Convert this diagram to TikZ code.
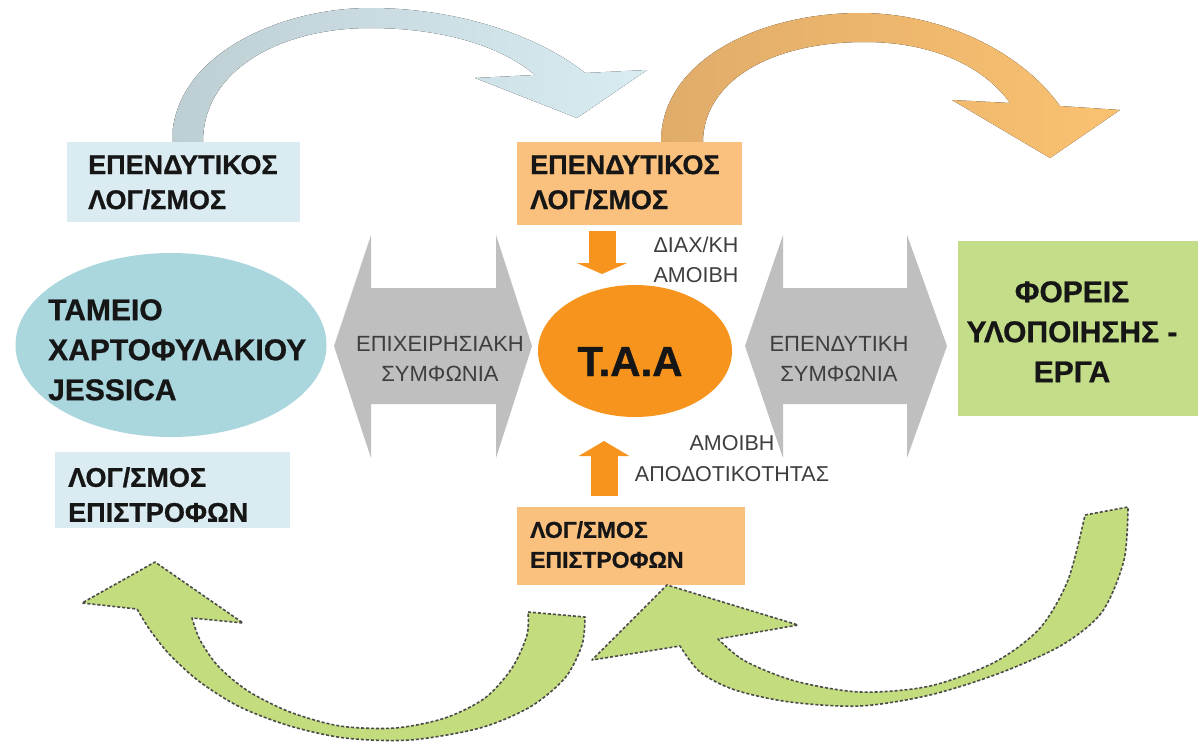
\documentclass[tikz,border=0pt]{standalone}
\usepackage{fontspec}
\setmainfont{Liberation Sans}[BoldFeatures={FakeBold=0.8}]
\usetikzlibrary{arrows.meta,shapes.geometric}
\definecolor{boxblue}{RGB}{218,235,241}
\definecolor{ellblue}{RGB}{170,214,222}
\definecolor{boxorange}{RGB}{250,192,126}
\definecolor{taaorange}{RGB}{247,148,30}
\definecolor{arcblueA}{RGB}{190,207,212}
\definecolor{arcblueB}{RGB}{216,236,241}
\definecolor{arcorA}{RGB}{224,172,106}
\definecolor{arcorB}{RGB}{250,193,112}
\definecolor{greybig}{RGB}{191,191,191}
\definecolor{greenbox}{RGB}{196,221,136}
\definecolor{greenarr}{RGB}{194,220,126}
\definecolor{dashgrey}{RGB}{75,75,75}
\definecolor{txtdark}{RGB}{22,22,22}
\definecolor{txtgrey}{RGB}{62,62,62}
\begin{document}
\begin{tikzpicture}[x=1pt,y=-1pt,
  panel/.style={inner sep=0pt,outer sep=0pt,anchor=north west},
  boxtxt/.style={font=\fontsize{27}{35}\selectfont\bfseries,text=txtdark,align=left,inner sep=0pt,anchor=north west},
  smalltxt/.style={font=\fontsize{23}{30}\selectfont\bfseries,text=txtdark,align=left,inner sep=0pt,anchor=north west},
  bigtxt/.style={font=\fontsize{30}{40}\selectfont\bfseries,text=txtdark,inner sep=0pt},
  greytxt/.style={font=\fontsize{22}{30}\selectfont,text=txtgrey,align=center,inner sep=0pt,anchor=north},
  labeltxt/.style={font=\fontsize{21.5}{30}\selectfont,text=txtgrey,align=center,inner sep=0pt,anchor=north},
  greyarrow/.style={fill=greybig},
  greenshape/.style={fill=greenarr,draw=dashgrey,line width=1.6pt,dash pattern=on 3pt off 2pt,line join=round},
  smallarr/.style={draw=taaorange,line width=27pt}
]
\fill[white] (0,0) rectangle (1198,744);
\useasboundingbox (0,0) rectangle (1198,744);

% curved top arrows
\fill[left color=arcblueA,right color=arcblueB]
  (172,142) .. controls (172,55) and (280,8) .. (370,8)
  .. controls (465,8) and (545,40) .. (585,73)
  -- (647,70) -- (577,118) -- (475,78) -- (535,75)
  .. controls (500,45) and (440,28) .. (370,28)
  .. controls (280,28) and (203,70) .. (203,142) -- cycle;
\fill[left color=arcorA,right color=arcorB]
  (661,142) .. controls (661,60) and (760,13) .. (860,13)
  .. controls (940,13) and (1020,50) .. (1060,106)
  -- (1120,110) -- (1050,158) -- (952,100) -- (1010,103)
  .. controls (985,68) and (935,42) .. (865,42)
  .. controls (765,42) and (703,85) .. (703,142) -- cycle;

% boxes
\node[panel,fill=boxblue,minimum width=233pt,minimum height=80pt] (lb1) at (67,142) {};
\node[boxtxt] (lb1t) at (88,155) {ΕΠΕΝΔΥΤΙΚΟΣ\\ΛΟΓ/ΣΜΟΣ};
\node[panel,fill=boxorange,minimum width=225pt,minimum height=83pt] (ob1) at (517,142) {};
\node[boxtxt] (ob1t) at (530,155) {ΕΠΕΝΔΥΤΙΚΟΣ\\ΛΟΓ/ΣΜΟΣ};
\node[panel,fill=boxblue,minimum width=235pt,minimum height=76pt] (lb2) at (55,452) {};
\node[boxtxt] (lb2t) at (68,467) {ΛΟΓ/ΣΜΟΣ\\ΕΠΙΣΤΡΟΦΩΝ};
\node[panel,fill=boxorange,minimum width=228pt,minimum height=78pt] (ob2) at (517,507) {};
\node[smalltxt] (ob2t) at (530,521) {ΛΟΓ/ΣΜΟΣ\\ΕΠΙΣΤΡΟΦΩΝ};
\node[panel,fill=greenbox,minimum width=240pt,minimum height=175pt] (gb) at (958,241) {};
\node[bigtxt,align=center,anchor=north] (gbt) at (1072,281) {ΦΟΡΕΙΣ\\ΥΛΟΠΟΙΗΣΗΣ -\\ΕΡΓΑ};

% ellipses
\node[ellipse,fill=ellblue,minimum width=311pt,minimum height=184pt,inner sep=0pt] (jess) at (171,345) {};
\node[bigtxt,align=left,anchor=north west] (jesst) at (48,299) {ΤΑΜΕΙΟ\\ΧΑΡΤΟΦΥΛΑΚΙΟΥ\\JESSICA};
\node[ellipse,fill=taaorange,minimum width=194pt,minimum height=132pt,inner sep=0pt] (taa) at (635,351) {};
\node[font=\fontsize{42}{48}\selectfont\bfseries,text=txtdark,inner sep=0pt,anchor=base] (taat) at (630,376) {T.A.A};

% grey double arrows
\fill[greyarrow] (334,346) -- (371,235) -- (371,288) -- (496,288) -- (496,235) -- (532,346)
  -- (496,458) -- (496,404) -- (371,404) -- (371,458) -- cycle;
\node[greytxt] (ga1t) at (440,336) {ΕΠΙΧΕΙΡΗΣΙΑΚΗ\\ΣΥΜΦΩΝΙΑ};
\fill[greyarrow] (745,346) -- (783,235) -- (783,288) -- (907,288) -- (907,235) -- (947,346)
  -- (907,458) -- (907,404) -- (783,404) -- (783,458) -- cycle;
\node[greytxt] (ga2t) at (839,336) {ΕΠΕΝΔΥΤΙΚΗ\\ΣΥΜΦΩΝΙΑ};

% small orange arrows
\coordinate (dA) at (602,231);
\coordinate (dB) at (602,274);
\draw[smallarr,-{Triangle[width=50pt,length=11pt]}] (dA) -- (dB);
\coordinate (uA) at (604,496);
\coordinate (uB) at (604,441);
\draw[smallarr,-{Triangle[width=50pt,length=15pt]}] (uA) -- (uB);
\node[labeltxt] (l1) at (696,237) {ΔΙΑΧ/ΚΗ\\ΑΜΟΙΒΗ};
\node[labeltxt,font=\fontsize{21.5}{31}\selectfont] (l2) at (732,435) {ΑΜΟΙΒΗ\\ΑΠΟΔΟΤΙΚΟΤΗΤΑΣ};

% green curved arrows
\draw[greenshape] (1085,515) -- (1128,507)
  -- plot[smooth] coordinates {(1128,507) (1124,560) (1102,612) (1062,645) (1000,673) (930,695) (860,706) (790,702) (735,690) (700,672) (680,646)}
  -- (592,660) -- (667,585) -- (798,625) -- (718,639)
  -- plot[smooth] coordinates {(718,639) (745,661) (795,681) (860,692) (930,686) (995,662) (1040,628) (1068,580) (1085,515)}
  -- cycle;
\draw[greenshape] (528,612) -- (585,617)
  -- plot[smooth] coordinates {(585,617) (582,645) (565,678) (530,707) (480,728) (410,740) (345,738) (290,726) (240,707) (200,682) (170,655) (150,630) (137,609)}
  -- (82,603) -- (155,562) -- (243,623) -- (192,618)
  -- plot[smooth] coordinates {(192,618) (200,640) (218,666) (248,691) (290,712) (340,726) (395,728) (445,718) (485,698) (512,668) (527,635) (528,612)}
  -- cycle;
\end{tikzpicture}
\end{document}
